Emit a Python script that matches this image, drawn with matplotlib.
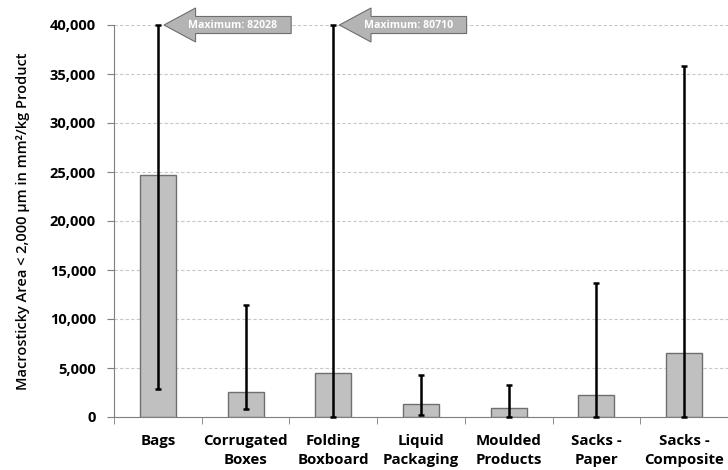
import matplotlib
matplotlib.use("Agg")
import matplotlib.pyplot as plt
from matplotlib.patches import Polygon
from matplotlib.ticker import FuncFormatter, FixedLocator
import numpy as np

plt.rcParams['font.family'] = ['Open Sans', 'DejaVu Sans']

categories = ["Bags", "Corrugated\nBoxes", "Folding\nBoxboard", "Liquid\nPackaging",
              "Moulded\nProducts", "Sacks -\nPaper", "Sacks -\nComposite"]
mean_area = [24700, 2550, 4500, 1350, 900, 2200, 6500]
min_area = [2900, 800, 0, 200, 0, 0, 0]
max_area = [82028, 11400, 80710, 4300, 3300, 13700, 35800]
y_top = 40000
off_scale = {0: "Maximum: 82028", 2: "Maximum: 80710"}

fig = plt.figure(figsize=(7.28, 4.70), dpi=100)
ax = fig.add_axes([114 / 728, 53 / 470, 1 - 114 / 728, 392 / 470])

x = np.arange(len(categories))
ax.bar(x, mean_area, width=0.41, color="#c0c0c0", edgecolor="#6f6f6f",
       linewidth=1.0, zorder=2)

lo = np.array(mean_area) - np.array(min_area)
hi = np.minimum(np.array(max_area), y_top) - np.array(mean_area)
ax.errorbar(x, mean_area, yerr=[lo, hi], fmt="none", ecolor="black",
            elinewidth=1.8, capsize=2.5, capthick=1.8, zorder=3, clip_on=False)

ax.set_ylim(0, y_top)
ax.set_xlim(-0.5, (728 - 114) / 88.3 - 0.5)
ax.yaxis.set_major_locator(FixedLocator(np.arange(0, y_top + 1, 5000)))
ax.yaxis.set_major_formatter(FuncFormatter(lambda v, p: f"{int(v):,}"))
ax.grid(axis="y", color="#c8c8c8", linestyle=(0, (3, 2)), linewidth=0.8, zorder=0)
ax.set_axisbelow(True)

ax.set_xticks(x)
ax.set_xticklabels(categories, fontsize=10.8, fontweight="bold", linespacing=1.45)
ax.set_xticks(np.arange(-0.5, len(categories) + 0.5, 1), minor=True)
ax.tick_params(axis="x", which="major", length=0, pad=12)
ax.tick_params(axis="x", which="minor", length=5, color="#7f7f7f", direction="out")
ax.tick_params(axis="y", length=5, color="#7f7f7f", labelsize=10.5, pad=8)
for lab in ax.get_yticklabels():
    lab.set_fontweight("bold")

for s in ["top", "right"]:
    ax.spines[s].set_visible(False)
for s in ["left", "bottom"]:
    ax.spines[s].set_color("#7f7f7f")

ax.set_ylabel("Macrosticky Area < 2,000 µm in mm²/kg Product", fontsize=10.5,
              fontweight="semibold", labelpad=14)

# block arrows marking the off-scale maxima
for i, txt in off_scale.items():
    tip = i + 0.07
    neck = i + 0.43
    tail = i + 1.52
    hh, bh = 1735, 870
    pts = [(tip, y_top), (neck, y_top + hh), (neck, y_top + bh), (tail, y_top + bh),
           (tail, y_top - bh), (neck, y_top - bh), (neck, y_top - hh)]
    ax.add_patch(Polygon(pts, closed=True, facecolor="#b4b4b4", edgecolor="#6e6e6e",
                         linewidth=0.8, clip_on=False, zorder=4))
    ax.text((neck + tail) / 2 - 0.12, y_top, txt, color="white", fontsize=7.6,
            fontweight="bold", ha="center", va="center", zorder=5, clip_on=False)

fig.savefig("out.png", dpi=100)
